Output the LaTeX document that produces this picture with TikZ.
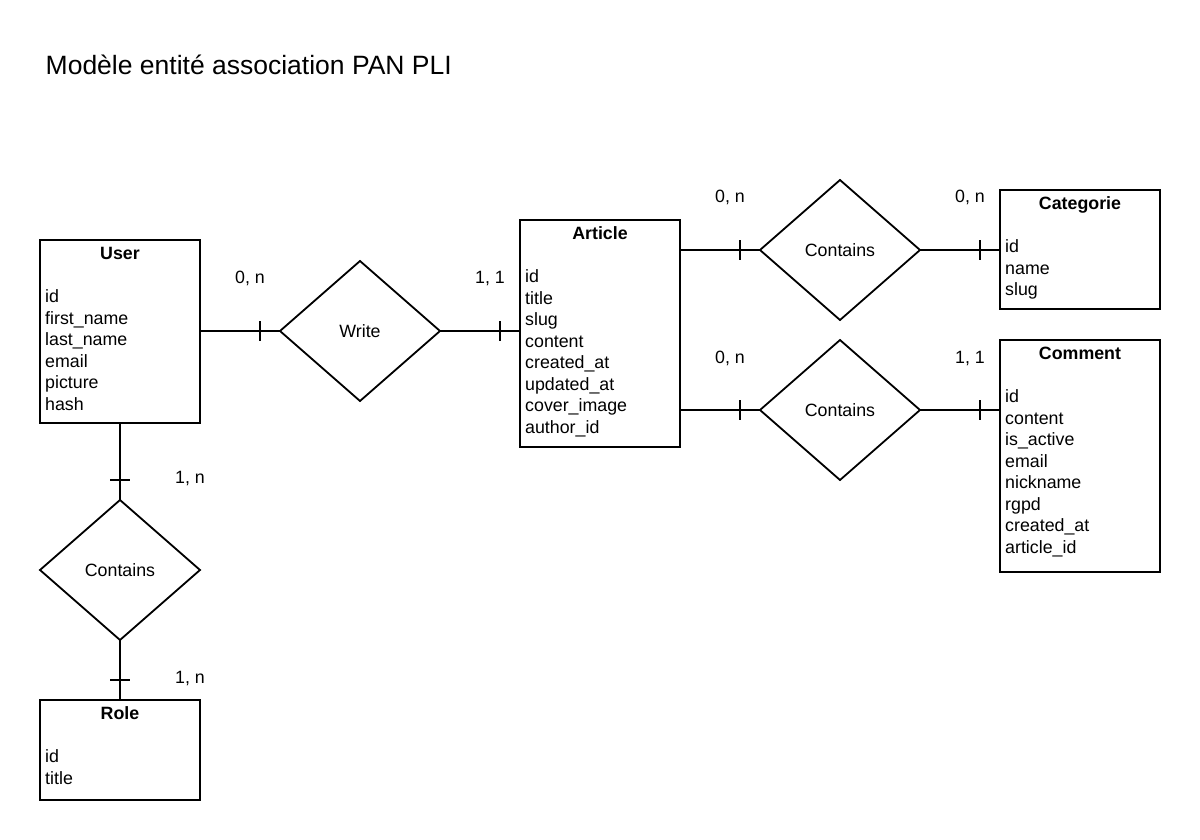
\documentclass[tikz,border=0pt]{standalone}
\usepackage{fontspec}
\setmainfont{Liberation Sans}
\usetikzlibrary{shapes.geometric,calc}
\newcommand\myfs{\fontsize{17.8}{21.5}\selectfont}
\newcommand\attrs[2]{%
  \foreach \t [count=\i] in {#2}{%
    \node[attr] (#1-\i) at ($(#1.north west)+(5,{62.7+21.5*(\i-1)})$) {\t};}}
\begin{document}
\begin{tikzpicture}[x=1pt,y=-1pt,
  ent/.style={draw,line width=1.8pt,minimum width=160pt,inner sep=0pt,outer sep=0pt,anchor=north west},
  dia/.style={diamond,draw,line width=1.8pt,minimum width=160pt,minimum height=140pt,inner sep=0pt,outer sep=0pt,font=\myfs},
  hdr/.style={font=\myfs\bfseries,inner sep=0pt,anchor=base},
  attr/.style={font=\myfs,inner sep=0pt,anchor=base west},
  lab/.style={font=\myfs,inner sep=0pt,anchor=base},
  conn/.style={line width=1.8pt}]
\fill[white] (0,0) rectangle (1200,840);
\useasboundingbox (0,0) rectangle (1200,840);

\node[anchor=base west,font=\fontsize{26.5}{32}\selectfont,inner sep=0pt] (title) at (45.5,75) {Modèle entité association PAN PLI};

% entities
\node[ent,minimum height=183pt] (user) at (40,240) {};
\node[ent,minimum height=227pt] (article) at (520,220) {};
\node[ent,minimum height=119pt] (cat) at (1000,190) {};
\node[ent,minimum height=232pt] (com) at (1000,340) {};
\node[ent,minimum height=100pt] (role) at (40,700) {};

\node[hdr] (user-h) at ($(user.north)+(0,19.3)$) {User};
\node[hdr] (article-h) at ($(article.north)+(0,19.3)$) {Article};
\node[hdr] (cat-h) at ($(cat.north)+(0,19.3)$) {Categorie};
\node[hdr] (com-h) at ($(com.north)+(0,19.3)$) {Comment};
\node[hdr] (role-h) at ($(role.north)+(0,19.3)$) {Role};

\attrs{user}{id,first\_name,last\_name,email,picture,hash}
\attrs{article}{id,title,slug,content,created\_at,updated\_at,cover\_image,author\_id}
\attrs{cat}{id,name,slug}
\attrs{com}{id,content,is\_active,email,nickname,rgpd,created\_at,article\_id}
\attrs{role}{id,title}

% associations
\node[dia] (write) at (360,331) {Write};
\node[dia] (c1) at (840,250) {Contains};
\node[dia] (c2) at (840,410) {Contains};
\node[dia] (c3) at (120,570) {Contains};

% connectors
\draw[conn] (user.east |- write.west) -- (write.west);
\draw[conn] ($(write.west)+(-20,-10)$) -- ++(0,20);
\draw[conn] (write.east) -- (write.east -| article.west);
\draw[conn] ($(write.east -| article.west)+(-20,-10)$) -- ++(0,20);
\draw[conn] (article.east |- c1.west) -- (c1.west);
\draw[conn] ($(c1.west)+(-20,-10)$) -- ++(0,20);
\draw[conn] (c1.east) -- (c1.east -| cat.west);
\draw[conn] ($(c1.east -| cat.west)+(-20,-10)$) -- ++(0,20);
\draw[conn] (article.east |- c2.west) -- (c2.west);
\draw[conn] ($(c2.west)+(-20,-10)$) -- ++(0,20);
\draw[conn] (c2.east) -- (c2.east -| com.west);
\draw[conn] ($(c2.east -| com.west)+(-20,-10)$) -- ++(0,20);
\draw[conn] (user.south) -- (c3.north);
\draw[conn] ($(c3.north)+(-10,-20)$) -- ++(20,0);
\draw[conn] (c3.south) -- (role.north);
\draw[conn] ($(role.north)+(-10,-20)$) -- ++(20,0);

% cardinalities
\node[lab] (l1) at (250,283) {0, n};
\node[lab] (l2) at (490,283) {1, 1};
\node[lab] (l3) at (730,203) {0, n};
\node[lab] (l4) at (970,203) {0, n};
\node[lab] (l5) at (730,363) {0, n};
\node[lab] (l6) at (970,363) {1, 1};
\node[lab] (l7) at (190,483) {1, n};
\node[lab] (l8) at (190,683) {1, n};
\end{tikzpicture}
\end{document}
